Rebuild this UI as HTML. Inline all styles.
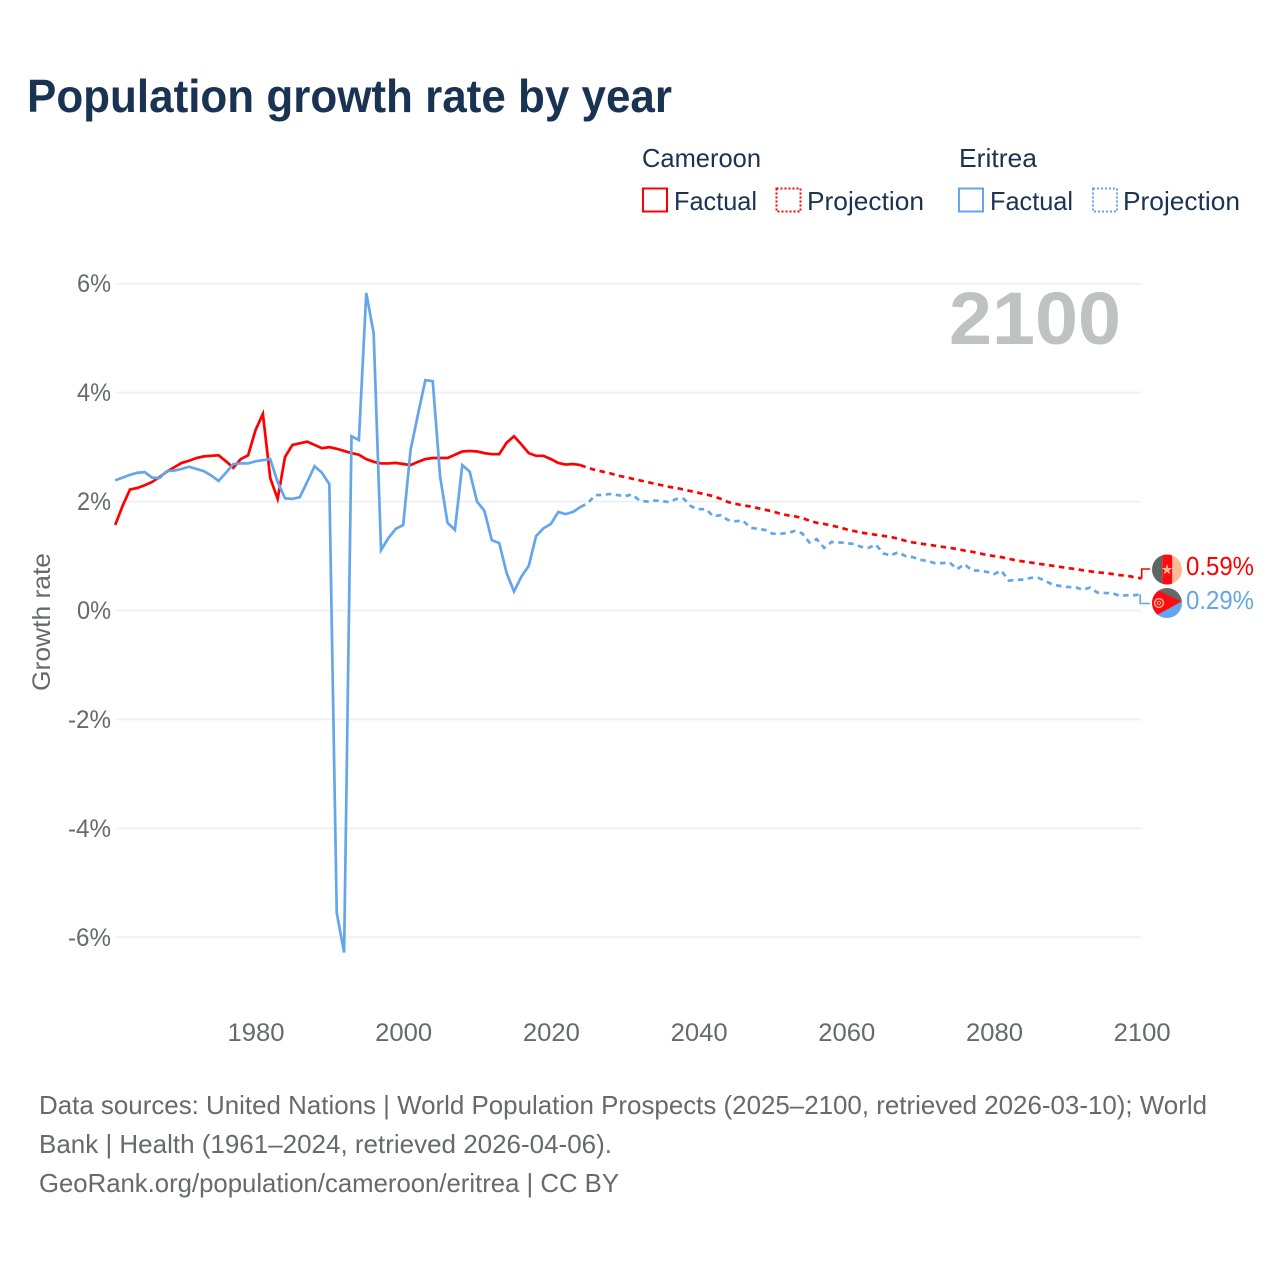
<!DOCTYPE html>
<html lang="en">
<head>
<meta charset="utf-8">
<title>Population growth rate by year</title>
<style>
html,body{margin:0;padding:0;background:#fff;}
svg{display:block;font-family:"Liberation Sans",sans-serif;}
</style>
</head>
<body>
<svg id="chart" xmlns="http://www.w3.org/2000/svg" width="1280" height="1280" viewBox="0 0 1280 1280">
  <defs>
    <clipPath id="flag-clip-a"><circle cx="1167" cy="569.5" r="15"/></clipPath>
    <clipPath id="flag-clip-b"><circle cx="1167" cy="603" r="15"/></clipPath>
  </defs>
  <rect width="1280" height="1280" fill="#fff"/>
  <text x="27" y="112" font-size="46" font-weight="700" fill="#1a3353" textLength="645" lengthAdjust="spacingAndGlyphs">Population growth rate by year</text>

  <g font-size="26" fill="#1a3353">
    <text x="642" y="167" textLength="119" lengthAdjust="spacingAndGlyphs">Cameroon</text>
    <text x="959" y="167" textLength="78" lengthAdjust="spacingAndGlyphs">Eritrea</text>
    <rect x="643" y="188.5" width="24" height="23" fill="none" stroke="#ff0000" stroke-width="2"/>
    <text x="674" y="210" textLength="83" lengthAdjust="spacingAndGlyphs">Factual</text>
    <rect x="776.5" y="188.5" width="24" height="23" fill="none" stroke="#ff0000" stroke-width="2" stroke-dasharray="2 2"/>
    <text x="807" y="210" textLength="117" lengthAdjust="spacingAndGlyphs">Projection</text>
    <rect x="959" y="188.5" width="24" height="23" fill="none" stroke="#63a6ec" stroke-width="2"/>
    <text x="990" y="210" textLength="83" lengthAdjust="spacingAndGlyphs">Factual</text>
    <rect x="1093" y="188.5" width="24" height="23" fill="none" stroke="#63a6ec" stroke-width="2" stroke-dasharray="2 2"/>
    <text x="1123" y="210" textLength="117" lengthAdjust="spacingAndGlyphs">Projection</text>
  </g>

  <g id="grid"></g>
  <g id="yticks" font-size="25" fill="#666a6a"></g>
  <g id="xticks" font-size="25" fill="#666a6a"></g>
  <text transform="translate(50 622) rotate(-90)" text-anchor="middle" font-size="25" fill="#666a6a" textLength="138" lengthAdjust="spacingAndGlyphs">Growth rate</text>
  <text x="1121" y="344" text-anchor="end" font-size="74" font-weight="700" fill="#bfc2c2" textLength="172" lengthAdjust="spacingAndGlyphs">2100</text>

  <g id="series"></g>

  <g clip-path="url(#flag-clip-a)">
    <rect x="1152" y="554" width="10.3" height="31" fill="#5f6661"/>
    <rect x="1162.3" y="554" width="10" height="31" fill="#ff0a12"/>
    <rect x="1172.3" y="554" width="10" height="31" fill="#ffb995"/>
    <polygon points="1167,564 1168.3,568 1172.4,568 1169.1,570.4 1170.3,574.4 1167,571.9 1163.7,574.4 1164.9,570.4 1161.6,568 1165.7,568" fill="#ffb995"/>
  </g>
  <g clip-path="url(#flag-clip-b)">
    <rect x="1152" y="588" width="30" height="14" fill="#666a66"/>
    <polygon points="1150,601.5 1182,601.5 1182,618 1150,618" fill="#63a6ec"/>
    <polygon points="1150,586.5 1181.5,601.5 1150,619" fill="#ff0a12"/>
    <circle cx="1159" cy="603" r="4.4" fill="none" stroke="#ffb995" stroke-width="1.4"/>
    <circle cx="1159" cy="603" r="1.6" fill="none" stroke="#ffb995" stroke-width="1"/>
  </g>

  <g font-size="26" fill="#666a6a">
    <text x="39" y="1114" textLength="1168" lengthAdjust="spacingAndGlyphs">Data sources: United Nations | World Population Prospects (2025–2100, retrieved 2026-03-10); World</text>
    <text x="39" y="1153" textLength="573" lengthAdjust="spacingAndGlyphs">Bank | Health (1961–2024, retrieved 2026-04-06).</text>
    <text x="39" y="1192" textLength="580" lengthAdjust="spacingAndGlyphs">GeoRank.org/population/cameroon/eritrea | CC BY</text>
  </g>
</svg>
<script>
const xTickYears = [1980, 2000, 2020, 2040, 2060, 2080, 2100];
const yTickValues = [6, 4, 2, 0, -2, -4, -6];
const factualStartYear = 1961;
const projectionStartYear = 2025;
const cameroonFactual = [1.57,1.92,2.22,2.25,2.30,2.36,2.45,2.55,2.63,2.71,2.75,2.80,2.83,2.84,2.85,2.74,2.62,2.78,2.85,3.31,3.61,2.43,2.05,2.82,3.04,3.07,3.10,3.04,2.98,3.00,2.97,2.93,2.89,2.86,2.78,2.73,2.70,2.70,2.71,2.69,2.67,2.73,2.78,2.80,2.80,2.80,2.86,2.92,2.93,2.92,2.89,2.87,2.87,3.08,3.20,3.05,2.89,2.84,2.84,2.78,2.71,2.68,2.69,2.67];
const cameroonProjection = [2.62,2.58,2.55,2.52,2.48,2.45,2.42,2.39,2.36,2.33,2.30,2.27,2.25,2.22,2.19,2.16,2.13,2.10,2.05,1.99,1.96,1.93,1.91,1.88,1.85,1.82,1.78,1.75,1.73,1.70,1.65,1.61,1.59,1.56,1.53,1.49,1.46,1.43,1.41,1.39,1.37,1.35,1.32,1.28,1.25,1.23,1.21,1.19,1.17,1.15,1.13,1.10,1.08,1.05,1.02,1.00,0.98,0.95,0.92,0.90,0.88,0.86,0.84,0.82,0.80,0.78,0.76,0.74,0.72,0.70,0.69,0.67,0.65,0.64,0.61,0.59];
const eritreaFactual = [2.39,2.44,2.49,2.53,2.54,2.44,2.43,2.56,2.57,2.60,2.64,2.60,2.56,2.48,2.38,2.53,2.69,2.70,2.70,2.74,2.76,2.78,2.36,2.06,2.05,2.08,2.36,2.65,2.53,2.32,-5.55,-6.28,3.20,3.13,5.83,5.09,1.11,1.33,1.50,1.57,2.95,3.60,4.23,4.21,2.46,1.61,1.48,2.67,2.55,2.00,1.83,1.29,1.24,0.69,0.35,0.62,0.82,1.37,1.51,1.59,1.81,1.77,1.81,1.90];
const eritreaProjection = [1.97,2.12,2.12,2.14,2.12,2.10,2.13,2.02,2.00,2.02,2.01,1.99,2.05,2.05,1.91,1.86,1.86,1.73,1.75,1.66,1.64,1.65,1.52,1.50,1.48,1.41,1.41,1.42,1.46,1.42,1.25,1.31,1.15,1.26,1.25,1.24,1.22,1.17,1.15,1.21,1.05,1.01,1.07,1.00,0.98,0.93,0.91,0.87,0.87,0.88,0.76,0.85,0.74,0.73,0.71,0.67,0.73,0.55,0.56,0.57,0.60,0.60,0.54,0.47,0.45,0.43,0.43,0.38,0.42,0.33,0.32,0.32,0.27,0.28,0.28,0.30];
const endLabels = ["0.59%", "0.29%"];

const NS = "http://www.w3.org/2000/svg";
const RED = "#ff0000";
const BLUE = "#63a6ec";
function xScale(year) { return 255.5 + (year - 1980) * 7.385; }
function yScale(value) { return 610.5 - value * 54.46; }

function make(tag, attrs, parent) {
  const el = document.createElementNS(NS, tag);
  for (const k in attrs) el.setAttribute(k, attrs[k]);
  parent.appendChild(el);
  return el;
}
const gridG = document.getElementById("grid");
const yG = document.getElementById("yticks");
const xG = document.getElementById("xticks");
const seriesG = document.getElementById("series");

yTickValues.forEach(function (v) {
  const y = yScale(v);
  const line = make("line", {x1: 116, x2: 1141, y1: y, y2: y, stroke: "#eef0f2", "stroke-width": 2}, gridG);
  
  
  const text = v + "%";
  const label = make("text", {x: 111, y: y + 8.5, "text-anchor": "end", textLength: text.length === 2 ? 34 : 43, lengthAdjust: "spacingAndGlyphs"}, yG);
  
  
  label.textContent = text;
});
xTickYears.forEach(function (yr) {
  const label = make("text", {x: xScale(yr) + 0.5, y: 1041, "text-anchor": "middle", textLength: 57, lengthAdjust: "spacingAndGlyphs"}, xG);
  
  
  label.textContent = yr;
});

function pathFrom(values, startYear, seed) {
  const parts = seed ? [seed] : [];
  values.forEach(function (v, i) { parts.push(xScale(startYear + i).toFixed(2) + "," + yScale(v).toFixed(2)); });
  return "M" + parts.join("L");
}
function drawSeries(factual, projection, color, labelText, labelY, connectY, connectInset) {
  const lastYear = factualStartYear + factual.length - 1;
  const seed = xScale(lastYear).toFixed(2) + "," + yScale(factual[factual.length - 1]).toFixed(2);
  const proj = make("path", {d: pathFrom(projection, projectionStartYear, seed), fill: "none", stroke: color, "stroke-width": 2.7, "stroke-dasharray": "5.5 4.5"}, seriesG);
  
  
  const fact = make("path", {d: pathFrom(factual, factualStartYear), fill: "none", stroke: color, "stroke-width": 2.7, "stroke-linejoin": "miter", "stroke-miterlimit": 6}, seriesG);
  
  
  const endX = xScale(projectionStartYear + projection.length - 1) - connectInset;
  const endY = yScale(projection[projection.length - 1]);
  const conn = make("path", {d: "M" + endX + "," + endY + "V" + connectY + "H1150", fill: "none", stroke: color, "stroke-width": 1.6}, seriesG);
  
  
  const label = make("text", {x: 1186, y: labelY, "font-size": 26, fill: color, textLength: 68, lengthAdjust: "spacingAndGlyphs"}, seriesG);
  
  
  label.textContent = labelText;
}
drawSeries(cameroonFactual, cameroonProjection, RED, endLabels[0], 575, 569, 0);
drawSeries(eritreaFactual, eritreaProjection, BLUE, endLabels[1], 609, 603.5, 1.5);
</script>
</body>
</html>
